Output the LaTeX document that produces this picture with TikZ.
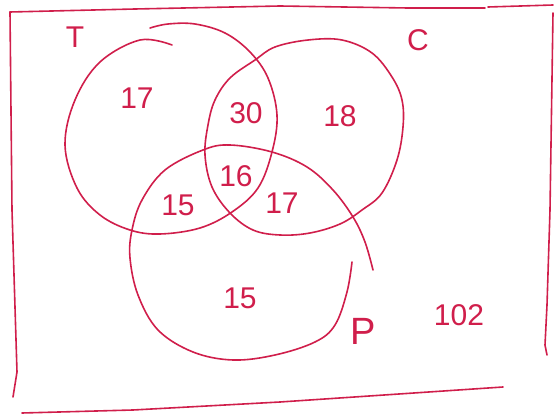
\documentclass[tikz,border=0pt]{standalone}
\usepackage{fontspec}
\setmainfont{Liberation Sans}
\begin{document}
\begin{tikzpicture}[x=1pt,y=-1pt,
  ink/.style={draw=inkc, line width=1.6pt, line cap=round, line join=round},
  lbl/.style={text=inkc, inner sep=0pt, font=\fontsize{30}{30}\selectfont},
  biglbl/.style={text=inkc, inner sep=0pt, font=\fontsize{38}{38}\selectfont}]
\definecolor{inkc}{RGB}{208,30,75}
\useasboundingbox (0,0) rectangle (555,414);
% frame
\draw[ink] (10,12) -- (135,9) -- (280,6) -- (408,8) -- (485,8);
\draw[ink] (488,7) -- (553,5);
\draw[ink] (10,12) -- (12,210) -- (17,372) -- (13,397);
\draw[ink] (553,13) -- (550,210) -- (547,305) -- (545,345) -- (547,355);
\draw[ink] (22,413) -- (133,410) -- (280,402) -- (503,387);
% T circle (open stroke)
\draw[ink] plot[smooth, tension=0.6] coordinates {(172,45) (140,40) (100,62) (75,100) (65,145) (77,188) (100,215) (130,230) (160,234) (200,228) (232,212) (258,188) (272,152) (277,115) (268,78) (250,52) (225,33) (195,24) (168,24) (150,28)};
% C circle
\draw[ink] plot[smooth cycle, tension=0.6] coordinates {(275,47) (308,40) (342,40) (372,53) (392,77) (402,100) (403,127) (397,160) (382,193) (362,210) (340,224) (310,233) (280,235) (253,230) (230,213) (212,187) (205,155) (208,125) (215,100) (230,78) (255,60)};
% P circle (open stroke)
\draw[ink] plot[smooth, tension=0.6] coordinates {(373,270) (365,242) (353,217) (333,190) (307,167) (272,152) (230,145) (203,150) (165,170) (142,200) (132,230) (130,258) (138,295) (158,330) (193,352) (233,360) (275,355) (315,342) (335,325) (347,292) (352,262)};
% labels
\node[lbl] (lT) at (75,37) {T};
\node[lbl] (lC) at (418,40) {C};
\node[biglbl] (lP) at (363,331) {P};
\node[lbl] (lU) at (459,315) {102};
\node[lbl] (nT) at (137,98) {17};
\node[lbl] (nTC) at (246,113) {30};
\node[lbl] (nC) at (340,116) {18};
\node[lbl] (nTCP) at (236,176) {16};
\node[lbl] (nTP) at (178,205) {15};
\node[lbl] (nCP) at (282,203) {17};
\node[lbl] (nP) at (240,298) {15};
\end{tikzpicture}
\end{document}
